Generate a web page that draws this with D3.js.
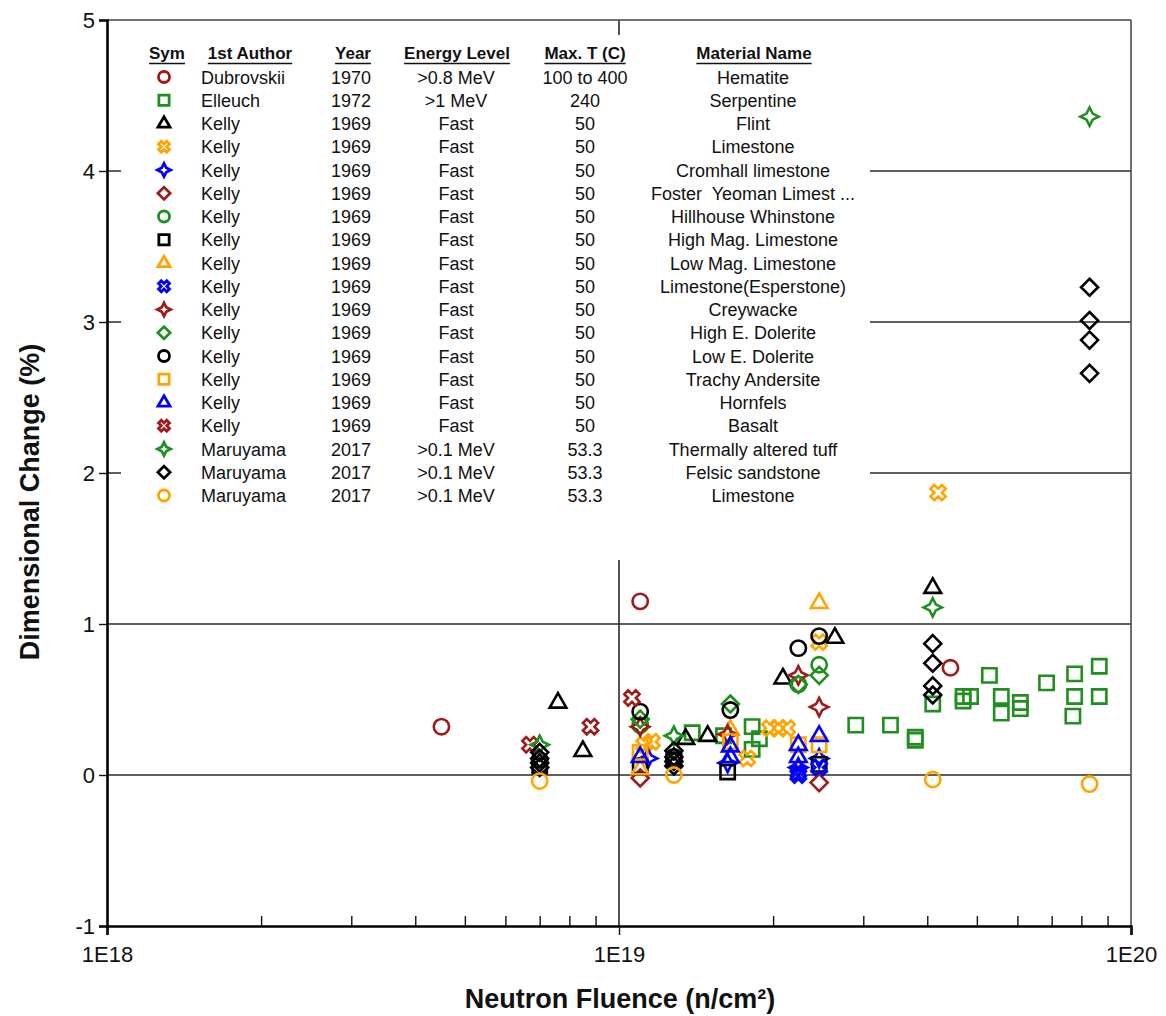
<!DOCTYPE html>
<html>
<head>
<meta charset="utf-8">
<script src="https://cdn.jsdelivr.net/npm/d3@7"></script>
<style>
  body { margin: 0; background: #fff; }
  svg { display: block; }
  text { font-family: "Liberation Sans", Arial, sans-serif; fill: #111; }
</style>
</head>
<body>
<svg id="chart" width="1166" height="1016"></svg>
<script>
// ---- Legend table columns ----
const authors = ["Dubrovskii", "Elleuch", "Kelly", "Kelly", "Kelly", "Kelly", "Kelly", "Kelly", "Kelly",
  "Kelly", "Kelly", "Kelly", "Kelly", "Kelly", "Kelly", "Kelly", "Maruyama", "Maruyama", "Maruyama"];
const years = ["1970", "1972", "1969", "1969", "1969", "1969", "1969", "1969", "1969",
  "1969", "1969", "1969", "1969", "1969", "1969", "1969", "2017", "2017", "2017"];
const energyLevels = [">0.8 MeV", ">1 MeV", "Fast", "Fast", "Fast", "Fast", "Fast", "Fast", "Fast",
  "Fast", "Fast", "Fast", "Fast", "Fast", "Fast", "Fast", ">0.1 MeV", ">0.1 MeV", ">0.1 MeV"];
const maxTemps = ["100 to 400", "240", "50", "50", "50", "50", "50", "50", "50",
  "50", "50", "50", "50", "50", "50", "50", "53.3", "53.3", "53.3"];
const materials = ["Hematite", "Serpentine", "Flint", "Limestone", "Cromhall limestone",
  "Foster  Yeoman Limest ...", "Hillhouse Whinstone", "High Mag. Limestone", "Low Mag. Limestone",
  "Limestone(Esperstone)", "Creywacke", "High E. Dolerite", "Low E. Dolerite", "Trachy Andersite",
  "Hornfels", "Basalt", "Thermally altered tuff", "Felsic sandstone", "Limestone"];
const symbolKinds = ["circle", "square", "triangle", "xcross", "star4", "diamond", "circle", "square",
  "triangle", "xcross", "star4", "diamond", "circle", "square", "triangle", "xcross", "star4", "diamond", "circle"];
const symbolColors = ["#a01a1a", "#1f8f1f", "#000000", "#ffa500", "#0000ff", "#a01a1a", "#1f8f1f", "#000000",
  "#ffa500", "#0000ff", "#a01a1a", "#1f8f1f", "#000000", "#ffa500", "#0000ff", "#a01a1a", "#1f8f1f", "#000000", "#ffa500"];

// ---- Measurements: [neutron fluence (n/cm2), dimensional change (%)] ----
const dubrovskiiHematite = [[4.5e18, 0.32], [1.1e19, 1.15], [4.44e19, 0.71]];
const elleuchSerpentine = [[1.39e19, 0.28], [1.6e19, 0.26], [1.82e19, 0.32], [1.88e19, 0.24], [1.82e19, 0.17],
  [2.9e19, 0.33], [3.39e19, 0.33], [3.79e19, 0.25], [3.79e19, 0.23], [4.1e19, 0.47], [4.7e19, 0.52],
  [4.86e19, 0.52], [4.7e19, 0.49], [5.29e19, 0.66], [5.58e19, 0.52], [5.58e19, 0.41], [6.08e19, 0.48],
  [6.08e19, 0.44], [6.84e19, 0.61], [7.76e19, 0.67], [7.76e19, 0.52], [7.7e19, 0.39], [8.67e19, 0.72], [8.67e19, 0.52]];
const kellyFlint = [[7.6e18, 0.48], [8.5e18, 0.16], [1.35e19, 0.24], [1.49e19, 0.26], [2.09e19, 0.64],
  [2.64e19, 0.91], [4.1e19, 1.24]];
const kellyLimestone = [[1.12e19, 0.2], [1.16e19, 0.22], [1.78e19, 0.11], [1.97e19, 0.31], [2.05e19, 0.31],
  [2.13e19, 0.31], [2.24e19, 0.03], [2.46e19, 0.88], [4.2e19, 1.87]];
const kellyCromhall = [[1.14e19, 0.11], [1.63e19, 0.08], [2.24e19, 0.05], [2.46e19, 0.11]];
const kellyFosterYeoman = [[1.1e19, -0.02], [2.46e19, -0.05]];
const kellyHillhouse = [[1.1e19, 0.33], [2.24e19, 0.6], [2.46e19, 0.73]];
const kellyHighMag = [[7.0e18, 0.06], [1.1e19, 0.06], [1.28e19, 0.1], [1.63e19, 0.02], [2.46e19, 0.07]];
const kellyLowMag = [[1.1e19, 0.04], [1.65e19, 0.3], [2.46e19, 1.14]];
const kellyEsperstone = [[2.24e19, 0.0], [2.24e19, 0.02], [2.46e19, 0.05]];
const kellyCreywacke = [[1.1e19, 0.32], [1.63e19, 0.27], [2.24e19, 0.66], [2.46e19, 0.45]];
const kellyHighEDolerite = [[1.1e19, 0.37], [1.65e19, 0.47], [2.24e19, 0.6], [2.46e19, 0.66]];
const kellyLowEDolerite = [[7.0e18, 0.1], [1.1e19, 0.42], [1.28e19, 0.12], [1.65e19, 0.43], [2.24e19, 0.84], [2.46e19, 0.92]];
const kellyTrachy = [[1.1e19, 0.15], [1.65e19, 0.22], [2.24e19, 0.2], [2.46e19, 0.2]];
const kellyHornfels = [[1.1e19, 0.12], [1.65e19, 0.19], [1.65e19, 0.12], [2.24e19, 0.2], [2.24e19, 0.12], [2.46e19, 0.26]];
const kellyBasalt = [[6.7e18, 0.2], [8.8e18, 0.32], [1.06e19, 0.51]];
const maruyamaTuff = [[7.0e18, 0.2], [1.28e19, 0.26], [4.1e19, 1.11], [8.3e19, 4.36]];
const maruyamaFelsic = [[7.0e18, 0.15], [7.0e18, 0.11], [7.0e18, 0.08], [7.0e18, 0.05],
  [1.28e19, 0.16], [1.28e19, 0.12], [1.28e19, 0.09], [1.28e19, 0.06],
  [4.1e19, 0.87], [4.1e19, 0.74], [4.1e19, 0.59], [4.1e19, 0.53],
  [8.3e19, 3.23], [8.3e19, 3.01], [8.3e19, 2.88], [8.3e19, 2.66]];
const maruyamaLimestone = [[7.0e18, -0.04], [1.28e19, 0.0], [4.1e19, -0.03], [8.3e19, -0.06]];

const seriesValues = [dubrovskiiHematite, elleuchSerpentine, kellyFlint, kellyLimestone, kellyCromhall,
  kellyFosterYeoman, kellyHillhouse, kellyHighMag, kellyLowMag, kellyEsperstone, kellyCreywacke,
  kellyHighEDolerite, kellyLowEDolerite, kellyTrachy, kellyHornfels, kellyBasalt, maruyamaTuff,
  maruyamaFelsic, maruyamaLimestone];

// ---- Axis ticks ----
const yTicks = [-1, 0, 1, 2, 3, 4, 5];
const xTicks = [1e18, 1e19, 1e20];
const xTickLabels = ["1E18", "1E19", "1E20"];
const xMinorTicks = [2e18, 3e18, 4e18, 5e18, 6e18, 7e18, 8e18, 9e18, 2e19, 3e19, 4e19, 5e19, 6e19, 7e19, 8e19, 9e19];
const gridValues = [0, 1, 2, 3, 4];

// ---- Symbol shapes (outlined) ----
function polyType(pts) {
  return {
    draw(ctx, size) {
      const r = Math.sqrt(size) / 2;
      pts.forEach(([px, py], i) => i ? ctx.lineTo(px * r, py * r) : ctx.moveTo(px * r, py * r));
      ctx.closePath();
    }
  };
}
const L = 0.95, A = 0.32, s2 = Math.SQRT1_2;
const plusPts = [[A, -L], [A, -A], [L, -A], [L, A], [A, A], [A, L], [-A, L], [-A, A], [-L, A], [-L, -A], [-A, -A], [-A, -L]];
const symbolTypes = {
  circle: { draw(ctx, size) { const r = Math.sqrt(size) / 2 * 0.9; ctx.moveTo(r, 0); ctx.arc(0, 0, r, 0, 2 * Math.PI); } },
  square: polyType([[-0.84, -0.84], [0.84, -0.84], [0.84, 0.84], [-0.84, 0.84]]),
  triangle: polyType([[0, -1.1], [0.98, 0.6], [-0.98, 0.6]]),
  diamond: polyType([[0, -1.0], [1.0, 0], [0, 1.0], [-1.0, 0]]),
  star4: polyType([[0, -1.08], [0.36, -0.36], [1.08, 0], [0.36, 0.36], [0, 1.08], [-0.36, 0.36], [-1.08, 0], [-0.36, -0.36]]),
  xcross: polyType(plusPts.map(([x, y]) => [(x - y) * s2, (x + y) * s2]))
};

// ---- Layout ----
const svg = d3.select("#chart");
const x = d3.scaleLog().domain([1e18, 1e20]).range([107, 1131]);
const y = d3.scaleLinear().domain([-1, 5]).range([926, 20]);
const [x0, x1] = x.range();
const [yB, yT] = y.range();

// gridlines and frame
const grid = svg.append("g");
grid.selectAll("line.h").data(gridValues).join("line")
  .attr("x1", x0).attr("x2", x1).attr("y1", d => y(d)).attr("y2", d => y(d))
  .attr("stroke", "#2a2a2a").attr("stroke-width", 1.6);
grid.append("line").attr("x1", x(1e19)).attr("x2", x(1e19)).attr("y1", yT).attr("y2", yB)
  .attr("stroke", "#2a2a2a").attr("stroke-width", 1.6);
grid.append("line").attr("x1", x0).attr("x2", x1).attr("y1", yT).attr("y2", yT)
  .attr("stroke", "#444").attr("stroke-width", 1.7);
grid.append("line").attr("x1", x1).attr("x2", x1).attr("y1", yT).attr("y2", yB)
  .attr("stroke", "#555").attr("stroke-width", 1.7);

// legend table
const legend = svg.append("g");
legend.append("rect").attr("x", 121).attr("y", 35).attr("width", 749).attr("height", 525).attr("fill", "#fff");

const headers = [
  { t: "Sym", x: 167 }, { t: "1st Author", x: 250 }, { t: "Year", x: 353 },
  { t: "Energy Level", x: 457 }, { t: "Max. T (C)", x: 585 }, { t: "Material Name", x: 754 }
];
headers.forEach(h => {
  const t = legend.append("text").attr("x", h.x).attr("y", 59).attr("text-anchor", "middle")
    .attr("font-size", 17).attr("font-weight", "bold").text(h.t);
  const w = t.node().getComputedTextLength();
  legend.append("line").attr("x1", h.x - w / 2).attr("x2", h.x + w / 2).attr("y1", 63.5).attr("y2", 63.5)
    .attr("stroke", "#111").attr("stroke-width", 1.4);
});

const rowY = i => 77 + i * 23.25;
const rows = legend.selectAll("g.row").data(authors).join("g").attr("class", "row")
  .attr("transform", (d, i) => `translate(0,${rowY(i)})`);
rows.append("path")
  .attr("transform", "translate(164,0)")
  .attr("d", (d, i) => d3.symbol().type(symbolTypes[symbolKinds[i]]).size(150)())
  .attr("fill", "none").attr("stroke", (d, i) => symbolColors[i]).attr("stroke-width", 2.8);
const rowText = (sel, xPos, anchor, arr) => sel.append("text").attr("x", xPos).attr("y", 6.5)
  .attr("text-anchor", anchor).attr("font-size", 18).style("white-space", "pre").text((d, i) => arr[i]);
rowText(rows, 201, "start", authors);
rowText(rows, 351, "middle", years);
rowText(rows, 456, "middle", energyLevels);
rowText(rows, 585, "middle", maxTemps);
rowText(rows, 753, "middle", materials);

// data markers
const marks = svg.append("g");
seriesValues.forEach((vals, i) => {
  marks.append("g").selectAll("path").data(vals).join("path")
    .attr("transform", d => `translate(${x(d[0])},${y(d[1])})`)
    .attr("d", d3.symbol().type(symbolTypes[symbolKinds[i]]).size(289))
    .attr("fill", "none").attr("stroke", symbolColors[i]).attr("stroke-width", 2.6);
});

// axes
const yAxis = svg.append("g").attr("transform", `translate(${x0},0)`)
  .call(d3.axisLeft(y).tickValues(yTicks).tickSize(8).tickPadding(4).tickFormat(d => String(d)));
const xAxis = svg.append("g").attr("transform", `translate(0,${yB})`)
  .call(d3.axisBottom(x).tickValues(xTicks).tickSize(9).tickPadding(11).tickFormat((d, i) => xTickLabels[i]));
const xMinor = svg.append("g").attr("transform", `translate(0,${yB})`)
  .call(d3.axisBottom(x).tickValues(xMinorTicks).tickSize(-10).tickFormat(""));
[yAxis, xAxis, xMinor].forEach(g => {
  g.select(".domain").attr("stroke", "#000").attr("stroke-width", 2.6);
  g.selectAll(".tick line").attr("stroke", "#111").attr("stroke-width", 1.4);
  g.selectAll(".tick text").attr("font-size", 22).attr("fill", "#111")
    .style("font-family", '"Liberation Sans", Arial, sans-serif');
});
xMinor.select(".domain").remove();

// axis titles
svg.append("text").attr("x", 620).attr("y", 1008).attr("text-anchor", "middle")
  .attr("font-size", 27).attr("font-weight", "bold").text("Neutron Fluence (n/cm²)");
svg.append("text").attr("transform", "translate(39,502) rotate(-90)").attr("text-anchor", "middle")
  .attr("font-size", 27).attr("font-weight", "bold").text("Dimensional Change (%)");
</script>
</body>
</html>
